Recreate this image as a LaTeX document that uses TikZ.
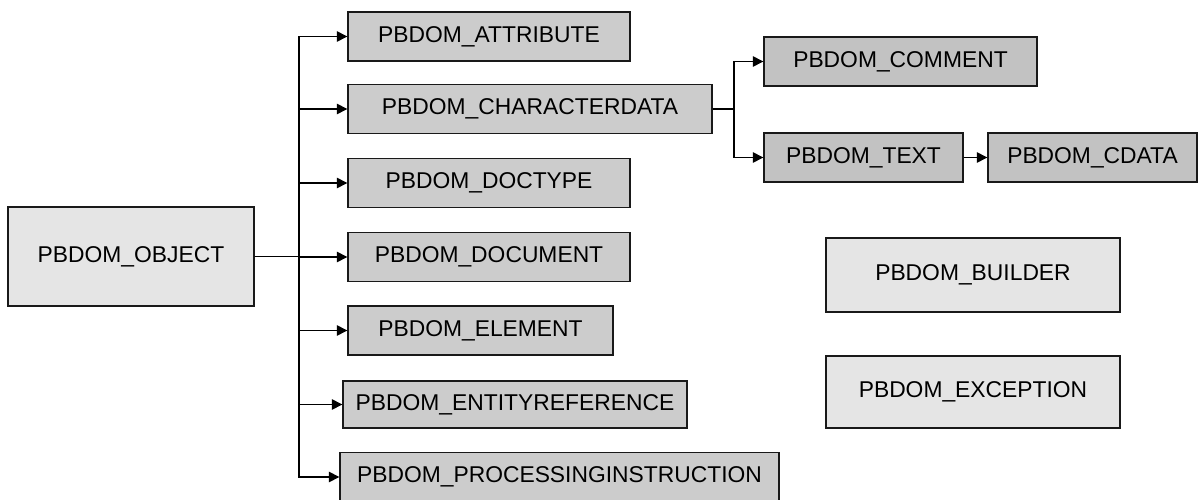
\documentclass[tikz,border=0pt]{standalone}
\usepackage{fontspec}
\setmainfont{Liberation Sans}
\usetikzlibrary{arrows.meta}

\definecolor{rootfill}{gray}{0.90}
\definecolor{kidfill}{gray}{0.80}
\definecolor{leaffill}{gray}{0.76}

\tikzset{
  box/.style={draw=black!90, line width=0.8pt, fill=kidfill, inner sep=0pt,
    minimum height=0.98cm, font=\fontsize{13}{15}\selectfont},
  rootbox/.style={box, fill=rootfill},
  leafbox/.style={box, fill=leaffill},
  link/.style={line width=0.7pt, -{Triangle[length=6pt, width=6pt]}}
}

\begin{document}
\begin{tikzpicture}[x=0.02cm, y=-0.02cm]
    \useasboundingbox (0, 0) rectangle (1198, 500);
    \clip (0, 0) rectangle (1198, 500);
    % root
    \node [rootbox, minimum width=4.92cm, minimum height=1.98cm] (obj) at (131, 256.5) {PBDOM\_OBJECT};
    % first level
    \node [box, minimum width=5.64cm] (attr)  at (489, 36.5)  {PBDOM\_ATTRIBUTE};
    \node [box, minimum width=7.28cm] (chr)   at (530, 109)   {PBDOM\_CHARACTERDATA};
    \node [box, minimum width=5.64cm] (dtype) at (489, 183)   {PBDOM\_DOCTYPE};
    \node [box, minimum width=5.64cm] (doc)   at (489, 257)   {PBDOM\_DOCUMENT};
    \node [box, minimum width=5.30cm] (elem)  at (480.5, 330.5) {PBDOM\_ELEMENT};
    \node [box, minimum width=6.88cm, minimum height=0.94cm] (ent) at (515, 404.5) {PBDOM\_ENTITYREFERENCE};
    \node [box, minimum width=8.78cm] (proc)  at (559.5, 477) {PBDOM\_PROCESSINGINSTRUCTION};
    % character data children
    \node [leafbox, minimum width=5.46cm] (cmt)   at (900.5, 61.5)  {PBDOM\_COMMENT};
    \node [leafbox, minimum width=3.98cm] (txt)   at (863.5, 157.5) {PBDOM\_TEXT};
    \node [leafbox, minimum width=4.18cm] (cdata) at (1092.5, 157.5) {PBDOM\_CDATA};
    % stand-alone classes
    \node [rootbox, minimum width=5.88cm, minimum height=1.48cm] (bld) at (973, 275) {PBDOM\_BUILDER};
    \node [rootbox, minimum width=5.88cm, minimum height=1.44cm] (exc) at (973, 392) {PBDOM\_EXCEPTION};
    % links
    \coordinate (fork) at (299, 256.5);
    \coordinate (chrfork) at (734, 109);
    \foreach \n in {attr, chr, dtype, doc, elem, ent, proc}
      \draw [link] (obj.east) -- (fork) |- (\n.west);
    \foreach \n in {cmt, txt}
      \draw [link] (chr.east) -- (chrfork) |- (\n.west);
    \draw [link] (txt) -- (cdata);
\end{tikzpicture}
\end{document}
